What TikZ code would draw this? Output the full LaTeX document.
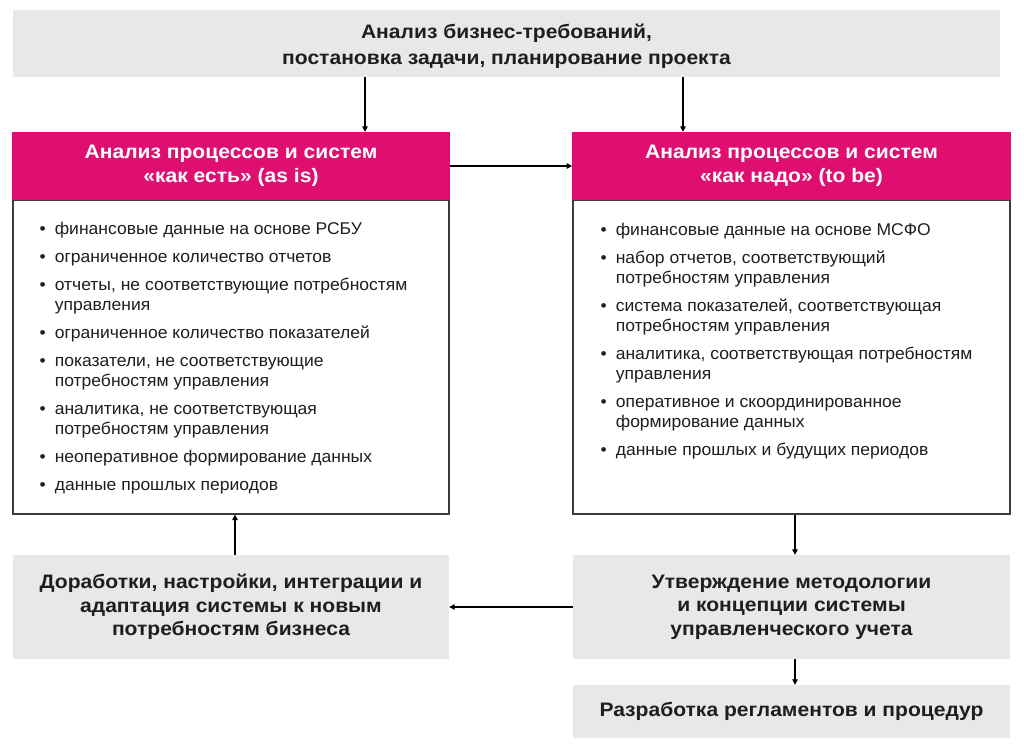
\documentclass[tikz,border=0pt]{standalone}
\usepackage{fontspec}
\setmainfont{Liberation Sans}[FakeStretch=1.03]
\newfontfamily\bwide{Liberation Sans}[FakeStretch=1.08]
\usetikzlibrary{arrows.meta}
\definecolor{pinkhead}{RGB}{225,14,114}
\definecolor{boxgray}{RGB}{232,232,232}
\definecolor{framegray}{RGB}{60,60,60}
\definecolor{txt}{RGB}{30,30,30}
\tikzset{
  graybox/.style={fill=boxgray, draw=none, inner sep=0pt, align=center, text=txt,
    font=\bwide\bfseries\fontsize{19.5}{23.5}\selectfont},
  headbox/.style={fill=pinkhead, draw=none, inner sep=0pt, align=center, text=white,
    font=\bwide\bfseries\fontsize{19.5}{23.5}\selectfont},
  bodybox/.style={fill=white, draw=framegray, line width=1.3pt, inner sep=0pt},
  listtext/.style={inner sep=0pt, anchor=base west, text=txt,
    font=\fontsize{17}{20}\selectfont},
  arr/.style={draw=black, line width=1.1pt, -{Triangle[length=5.5pt,width=5.5pt]}},
}
\begin{document}
\begin{tikzpicture}[x=1pt,y=-1pt]
\useasboundingbox (0,0) rectangle (1024,749);
% top box
\node[graybox, minimum width=987pt, minimum height=67pt,
  font=\bwide\bfseries\fontsize{19.5}{26}\selectfont] (top) at (506.5,43.5)
  {\rule{0pt}{21pt}Анализ бизнес-требований,\\постановка задачи, планирование проекта};
% bodies
\node[bodybox, minimum width=436pt, minimum height=314pt] (lbody) at (231,357) {};
\node[bodybox, minimum width=437pt, minimum height=314pt] (rbody) at (791.5,357) {};
% headers
\node[headbox, minimum width=437.3pt, minimum height=68pt] (lhead) at (231,166)
  {Анализ процессов и систем\\«как есть» (as is)};
\node[headbox, minimum width=438.3pt, minimum height=68pt] (rhead) at (791.5,166)
  {Анализ процессов и систем\\«как надо» (to be)};
% bottom boxes
\node[graybox, minimum width=436pt, minimum height=104pt] (lbot) at (231,607)
  {Доработки, настройки, интеграции и\\адаптация системы к новым\\потребностям бизнеса};
\node[graybox, minimum width=437pt, minimum height=104pt] (rmid) at (791.5,607)
  {Утверждение методологии\\и концепции системы\\управленческого учета};
\node[graybox, minimum width=437pt, minimum height=53pt] (rbot) at (791.5,711.5)
  {Разработка регламентов и процедур};
% lists
\node[listtext] (llist) at (39.5,234)
  {\begin{tabular}[t]{@{}l@{\hspace{9pt}}l@{}}
  • & финансовые данные на основе РСБУ\\[8pt]
  • & ограниченное количество отчетов\\[8pt]
  • & отчеты, не соответствующие потребностям\\
    & управления\\[8pt]
  • & ограниченное количество показателей\\[8pt]
  • & показатели, не соответствующие\\
    & потребностям управления\\[8pt]
  • & аналитика, не соответствующая\\
    & потребностям управления\\[8pt]
  • & неоперативное формирование данных\\[8pt]
  • & данные прошлых периодов
  \end{tabular}};
\node[listtext] (rlist) at (600.5,235)
  {\begin{tabular}[t]{@{}l@{\hspace{9pt}}l@{}}
  • & финансовые данные на основе МСФО\\[8pt]
  • & набор отчетов, соответствующий\\
    & потребностям управления\\[8pt]
  • & система показателей, соответствующая\\
    & потребностям управления\\[8pt]
  • & аналитика, соответствующая потребностям\\
    & управления\\[8pt]
  • & оперативное и скоординированное\\
    & формирование данных\\[8pt]
  • & данные прошлых и будущих периодов
  \end{tabular}};
% arrow x positions
\coordinate (xa) at (365,0);
\coordinate (xb) at (683,0);
\coordinate (xc) at (795,0);
\coordinate (xd) at (235,0);
% connectors
\draw[arr] (top.south -| xa) -- (lhead.north -| xa);
\draw[arr] (top.south -| xb) -- (rhead.north -| xb);
\draw[arr] (lhead.east) -- (rhead.west);
\draw[arr] (rbody.south -| xc) -- (rmid.north -| xc);
\draw[arr] (rmid.south -| xc) -- (rbot.north -| xc);
\draw[arr] (rmid.west) -- (lbot.east);
\draw[arr] (lbot.north -| xd) -- (lbody.south -| xd);
\end{tikzpicture}
\end{document}
